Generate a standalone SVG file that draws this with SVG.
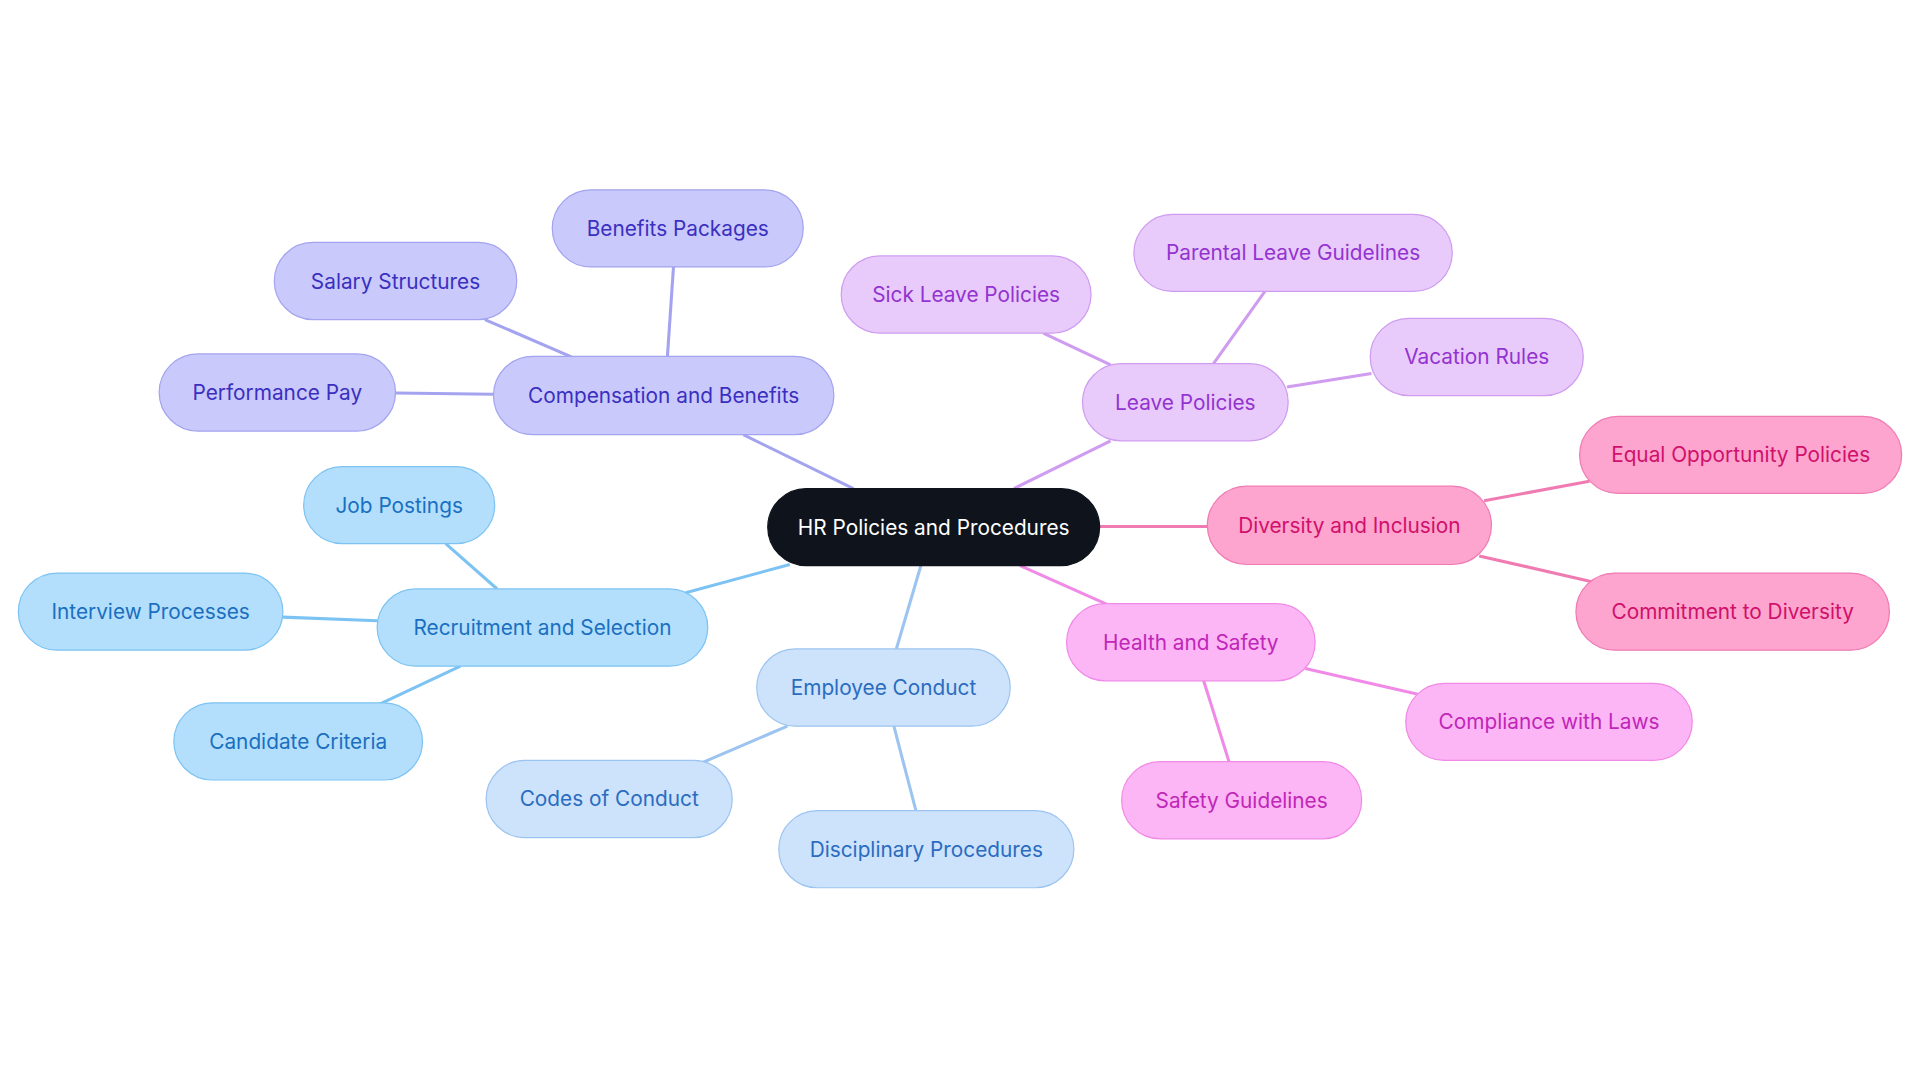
<svg xmlns="http://www.w3.org/2000/svg" width="1920" height="1083" viewBox="0 0 1920 1083">
<style>
text{font-family:Inter,"Noto Sans",sans-serif;font-size:17px;text-anchor:middle;dominant-baseline:central}
.e line{stroke-width:2.5;fill:none}
.c rect{fill:#c9c9fb;stroke:#a3a3f0}.c text{fill:#3a2fc0}
.r rect{fill:#b3dffc;stroke:#7cc3f3}.r text{fill:#1a6fc0}
.m rect{fill:#cde2fb;stroke:#9cc4f0}.m text{fill:#2a6cc0}
.l rect{fill:#e8cbfb;stroke:#cf9cf0}.l text{fill:#9333d0}
.d rect{fill:#fda4cf;stroke:#f07ab2}.d text{fill:#d0106a}
.h rect{fill:#fcb6f5;stroke:#f08ae6}.h text{fill:#c026b8}
</style>
<rect width="1920" height="1083" fill="#fff"/>
<g transform="scale(1.2245)">
<g class="e">
<line x1="697" y1="399" x2="607" y2="355" stroke="#a3a3f0"/>
<line x1="545" y1="292" x2="550" y2="218" stroke="#a3a3f0"/>
<line x1="468" y1="292" x2="396" y2="261" stroke="#a3a3f0"/>
<line x1="403" y1="322" x2="323" y2="321" stroke="#a3a3f0"/>
<line x1="645" y1="461" x2="560" y2="484" stroke="#7cc3f3"/>
<line x1="406" y1="481" x2="364" y2="444" stroke="#7cc3f3"/>
<line x1="308" y1="507" x2="231" y2="504" stroke="#7cc3f3"/>
<line x1="376" y1="544" x2="310" y2="575" stroke="#7cc3f3"/>
<line x1="752" y1="462" x2="732" y2="530" stroke="#9cc4f0"/>
<line x1="643" y1="593" x2="573" y2="623" stroke="#9cc4f0"/>
<line x1="730" y1="593" x2="748" y2="662" stroke="#9cc4f0"/>
<line x1="828" y1="399" x2="907" y2="360" stroke="#cf9cf0"/>
<line x1="907" y1="298" x2="852" y2="272" stroke="#cf9cf0"/>
<line x1="991" y1="297" x2="1033" y2="238" stroke="#cf9cf0"/>
<line x1="1051" y1="316" x2="1120" y2="305" stroke="#cf9cf0"/>
<line x1="898" y1="430" x2="986" y2="430" stroke="#f07ab2"/>
<line x1="1212" y1="409" x2="1298" y2="393" stroke="#f07ab2"/>
<line x1="1208" y1="454" x2="1300" y2="475" stroke="#f07ab2"/>
<line x1="833" y1="462" x2="905" y2="494" stroke="#f08ae6"/>
<line x1="1066" y1="546" x2="1158" y2="567" stroke="#f08ae6"/>
<line x1="983" y1="556" x2="1004" y2="623" stroke="#f08ae6"/>
</g>
<g id="root"><rect x="627" y="399" width="271" height="63" rx="31.5" fill="#0f141c" stroke="#0f141c"/><text x="762.5" y="430.5" fill="#fff">HR Policies and Procedures</text></g>
<g id="comp" class="c"><rect x="403" y="291" width="278" height="64" rx="32"/><text x="542" y="323">Compensation and Benefits</text></g>
<g id="ben" class="c"><rect x="451" y="155" width="205" height="63" rx="31.5"/><text x="553.5" y="186.5">Benefits Packages</text></g>
<g id="sal" class="c"><rect x="224" y="198" width="198" height="63" rx="31.5"/><text x="323" y="229.5">Salary Structures</text></g>
<g id="perf" class="c"><rect x="130" y="289" width="193" height="63" rx="31.5"/><text x="226.5" y="320.5">Performance Pay</text></g>
<g id="rec" class="r"><rect x="308" y="481" width="270" height="63" rx="31.5"/><text x="443" y="512.5">Recruitment and Selection</text></g>
<g id="job" class="r"><rect x="248" y="381" width="156" height="63" rx="31.5"/><text x="326" y="412.5">Job Postings</text></g>
<g id="int" class="r"><rect x="15" y="468" width="216" height="63" rx="31.5"/><text x="123" y="499.5">Interview Processes</text></g>
<g id="cand" class="r"><rect x="142" y="574" width="203" height="63" rx="31.5"/><text x="243.5" y="605.5">Candidate Criteria</text></g>
<g id="emp" class="m"><rect x="618" y="530" width="207" height="63" rx="31.5"/><text x="721.5" y="561.5">Employee Conduct</text></g>
<g id="codes" class="m"><rect x="397" y="621" width="201" height="63" rx="31.5"/><text x="497.5" y="652.5">Codes of Conduct</text></g>
<g id="disc" class="m"><rect x="636" y="662" width="241" height="63" rx="31.5"/><text x="756.5" y="693.5">Disciplinary Procedures</text></g>
<g id="leave" class="l"><rect x="884" y="297" width="168" height="63" rx="31.5"/><text x="968" y="328.5">Leave Policies</text></g>
<g id="sick" class="l"><rect x="687" y="209" width="204" height="63" rx="31.5"/><text x="789" y="240.5">Sick Leave Policies</text></g>
<g id="par" class="l"><rect x="926" y="175" width="260" height="63" rx="31.5"/><text x="1056" y="206.5">Parental Leave Guidelines</text></g>
<g id="vac" class="l"><rect x="1119" y="260" width="174" height="63" rx="31.5"/><text x="1206" y="291.5">Vacation Rules</text></g>
<g id="div" class="d"><rect x="986" y="397" width="232" height="64" rx="32"/><text x="1102" y="429">Diversity and Inclusion</text></g>
<g id="eq" class="d"><rect x="1290" y="340" width="263" height="63" rx="31.5"/><text x="1421.5" y="371.5">Equal Opportunity Policies</text></g>
<g id="comm" class="d"><rect x="1287" y="468" width="256" height="63" rx="31.5"/><text x="1415" y="499.5">Commitment to Diversity</text></g>
<g id="hs" class="h"><rect x="871" y="493" width="203" height="63" rx="31.5"/><text x="972.5" y="524.5">Health and Safety</text></g>
<g id="law" class="h"><rect x="1148" y="558" width="234" height="63" rx="31.5"/><text x="1265" y="589.5">Compliance with Laws</text></g>
<g id="safe" class="h"><rect x="916" y="622" width="196" height="63" rx="31.5"/><text x="1014" y="653.5">Safety Guidelines</text></g>
</g>
</svg>
